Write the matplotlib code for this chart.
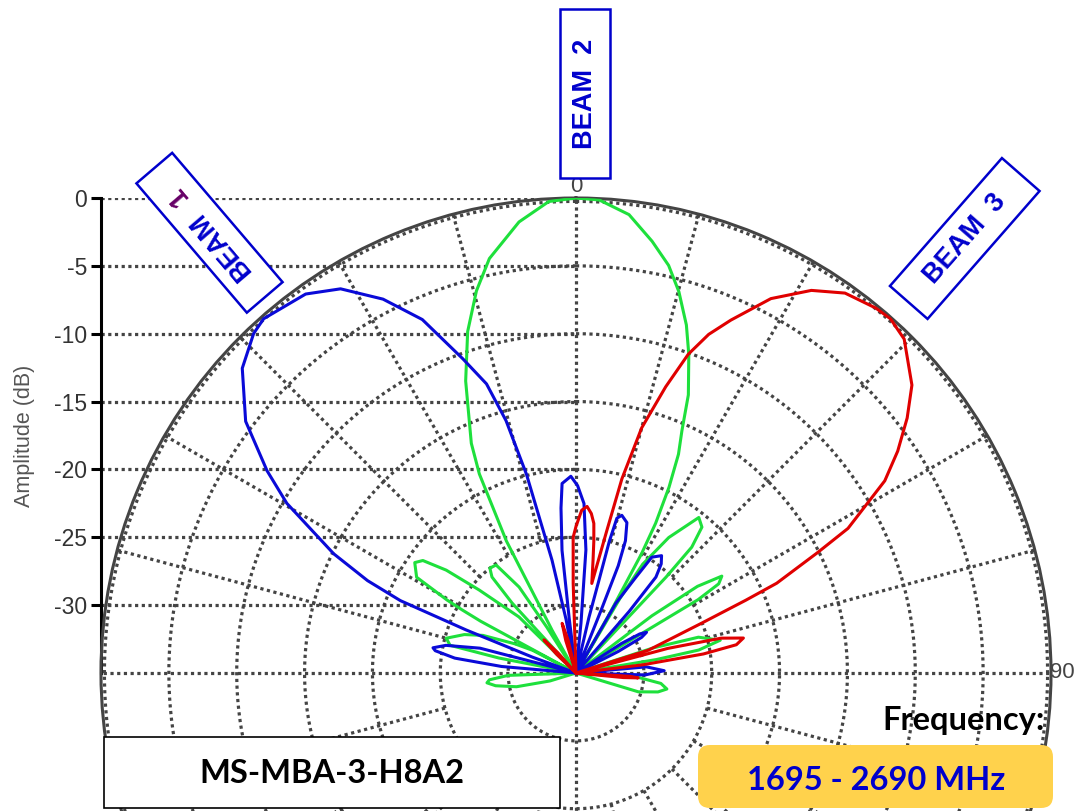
import numpy as np
import matplotlib
matplotlib.use("Agg")
import matplotlib.pyplot as plt
from matplotlib.patches import Polygon, Rectangle, FancyBboxPatch

# pattern data: angle (deg, 0 = boresight, clockwise) and level (dB)
# -35 dB is the centre of the chart, nulls are drawn there
beam1_deg = [-100, -88, -85, -83, -81, -80, -78, -75.5, -72.5, -70, -68.6, -67.6, -66.1, -63.8,
             -59.6, -56.8, -52.7, -47.6, -43.5, -41.4, -35.5, -31.5, -27.3, -23.5, -19.8, -17.2,
             -15.5, -14.0, -12.0, -10.5, -9.5, -8.0, -7.1, -6.5, -5.2, -4.2, -1.5, 0.5, 2.7, 4.6,
             5.7, 6.5, 12.5, 13.1, 13.9, 14.2, 14.8, 16.2, 18.7, 20.5, 21.5, 21.8, 22.0, 28.5,
             29.7, 32.0, 33.2, 36.1, 38.0, 39.8, 40.8, 41.5, 55, 57, 58.5, 60, 61.5, 63, 65,
             82.5, 85, 88.5, 91.6, 94, 100]
beam1_db = [-35, -35, -29.5, -26.0, -24.5, -24.3, -25.2, -27.7, -35, -31.6, -26.3, -21.0, -18.2, -15.1,
            -10.3, -7.8, -4.4, -1.7, -0.5, -0.2, -0.7, -1.8, -4.0, -6.6, -10.4, -12.7,
            -15.7, -19.9, -26.5, -31.0, -35, -35, -30.9, -25.9, -22.8, -21.0, -20.5, -21.2, -22.5, -25.9,
            -31.3, -35, -35, -30.8, -28.0, -25.0, -23.2, -22.9, -23.3, -24.6, -26.5, -30.0, -35, -35,
            -29.1, -26.7, -24.8, -24.3, -24.8, -25.8, -29.0, -35, -35, -31.0, -29.5, -29.0, -29.5, -31.5, -35,
            -35, -29.8, -28.5, -29.9, -35, -35]

beam2_deg = [-110, -107, -103, -99, -96.3, -94.5, -92, -90.5, -81, -79, -77.6, -75, -71, -68,
             -64.5, -62.4, -62, -61.5, -61.0, -60.5, -59, -55.6, -53.7, -51.6, -49.4, -45.5, -44,
             -42.4, -41.2, -39.4, -36.5, -33.5, -32.5, -31.5, -29.5, -29.2, -27.8, -25.9, -24.5,
             -20.7, -17.6, -14.6, -11.8, -7.2, -3.3, 0, 2.8, 6.6, 10.0, 12.8, 15.1, 17.6, 19.5,
             22.0, 23.6, 25.1, 26.6, 28.0, 28.8, 29.5, 30.0, 30.5, 31.5, 34.4, 38.3, 40.8, 42.6,
             43.2, 43.6, 51, 53, 54.5, 56.4, 58, 59, 60, 70, 72, 73.7, 77.2, 79.4, 80.5, 82,
             91, 94, 97, 100, 103, 106.8, 110]
beam2_db = [-35, -33.0, -30.5, -29.0, -28.4, -28.6, -30.0, -35, -35, -29.2, -25.5, -25.1, -26.3, -27.6,
            -30.0, -31.4, -35, -27.0, -25.4, -24.1, -21.3, -20.6, -21.0, -22.8, -25.6, -29.1, -35,
            -28.0, -25.6, -25.0, -25.1, -27.4, -31.0, -35, -35, -31.4, -24.0, -18.7, -16.4,
            -12.0, -8.6, -5.9, -3.8, -1.5, -0.2, 0, -0.1, -1.0, -2.7, -4.2, -5.9, -8.1, -10.1,
            -12.9, -15.5, -17.2, -19.7, -22.5, -25.0, -30.0, -35, -28.6, -25.6, -22.9, -20.4, -20.8, -22.4,
            -25.3, -35, -35, -28.0, -24.0, -22.1, -22.6, -24.5, -35, -35, -29.0, -25.6, -24.1, -25.8, -29.0, -35,
            -35, -30.4, -28.7, -28.2, -28.8, -30.2, -35]

beam3_deg = [-100, -48, -46, -44, -42, -40, -19, -17.5, -15.6, -13.5, -12, -3, -1.8, -1.2, 0,
             2.0, 3.8, 5.5, 6.8, 7.7, 8.6, 10.0, 12.2, 13.3, 15.0, 17.4, 19.4, 21.4, 23.7, 27.5,
             31.6, 35.3, 39.4, 41.6, 44.5, 49.4, 52.4, 55.4, 58.1, 62.0, 63.5, 65.9, 66.8, 68.4,
             72.5, 73.5, 75.0, 76.5, 78.2, 80.0, 81.5, 83.0, 84.5, 91, 93.5, 94.5, 95.5, 97, 100]
beam3_db = [-35, -35, -33.0, -31.6, -33.0, -35, -35, -32.5, -31.2, -32.5, -35, -35, -28.4, -25.0, -24.2,
            -23.0, -22.7, -23.2, -23.9, -25.2, -26.6, -28.3, -24.3, -20.3, -16.3, -12.9, -10.1, -8.2, -6.6, -3.9,
            -1.9, -0.7, -0.2, -0.1, -0.5, -2.4, -4.2, -6.2, -8.2, -12.3, -15.1, -18.8, -21.4, -25.1,
            -29.4, -35, -28.0, -24.0, -22.4, -23.0, -25.5, -30.0, -35, -35, -31.0, -30.4, -31.5, -35, -35]

amp_ticks = [0, -5, -10, -15, -20, -25, -30]
amp_labels = ["0", "-5", "-10", "-15", "-20", "-25", "-30"]
ring_levels = [-30, -25, -20, -15, -10, -5]

BLUE_LINE = "#0a0ad8"
GREEN_LINE = "#1ee03c"
RED_LINE = "#e00000"
TEXT_BLUE = "#0000cc"
GRID = "#444444"
DOTS = (0, (1, 1.1))
GRID_LW = 2.3
LINE_LW = 2.2

W, H = 1084, 811
CX, CY, R = 576, 673, 475   # chart centre and 0 dB radius, in pixels

fig = plt.figure(figsize=(W / 100, H / 100), dpi=100)

## amplitude scale on the left, its dotted lines run to the centre line
ax_amp = fig.add_axes([(CX - R) / W, 1 - CY / H, R / W, R / H])
ax_amp.set_facecolor("none")
ax_amp.set_xlim(0, 1)
ax_amp.set_ylim(-35, 0)
for s in ("top", "right", "bottom"):
    ax_amp.spines[s].set_visible(False)
ax_amp.spines["left"].set_linewidth(2.2)
ax_amp.spines["left"].set_color("black")
ax_amp.set_xticks([])
ax_amp.set_yticks(amp_ticks)
ax_amp.set_yticklabels(amp_labels, fontfamily="Liberation Sans")
ax_amp.tick_params(axis="y", direction="out", length=7, width=2.2, pad=3,
                   labelsize=16.5, labelcolor="#333333", color="black")
for v in amp_ticks:
    ax_amp.axhline(v, color=GRID, lw=GRID_LW, ls=DOTS, zorder=1)
ax_amp.set_ylabel("Amplitude (dB)", fontsize=15.5, color="#555555",
                  fontfamily="Liberation Sans", labelpad=14)

## polar chart
ax = fig.add_axes([(CX - R) / W, 1 - (CY + R) / H, 2 * R / W, 2 * R / H], projection="polar")
ax.set_facecolor("none")
ax.set_theta_zero_location("N")
ax.set_theta_direction(-1)
ax.set_ylim(-35, 0)
ax.set_xticks([])
ax.set_yticks([])
ax.grid(False)
ax.spines["polar"].set_color(GRID)
ax.spines["polar"].set_linewidth(2.2)

th = np.linspace(0, 2 * np.pi, 721)
for v in ring_levels + [-0.25]:
    ax.plot(th, np.full_like(th, v), color=GRID, lw=GRID_LW, ls=DOTS, zorder=1)
for d in range(0, 360, 15):
    start = -35 if d % 90 == 0 else -25
    ax.plot([np.deg2rad(d)] * 2, [start, 0], color=GRID, lw=GRID_LW, ls=DOTS, zorder=1)

ax.plot(np.deg2rad(beam2_deg), beam2_db, color=GREEN_LINE, lw=LINE_LW, zorder=3)
ax.plot(np.deg2rad(beam1_deg), beam1_db, color=BLUE_LINE, lw=LINE_LW, zorder=4)
ax.plot(np.deg2rad(beam3_deg), beam3_db, color=RED_LINE, lw=LINE_LW, zorder=5)

## overlay in pixel coordinates for labels and boxes
ov = fig.add_axes([0, 0, 1, 1])
ov.set_xlim(0, W)
ov.set_ylim(H, 0)
ov.axis("off")

ov.text(CX, 186, "0", ha="center", va="center", fontsize=16, color="#444444",
        fontfamily="Liberation Sans", zorder=2)
ov.text(1050, 673, "90", ha="left", va="center", fontsize=16, color="#444444",
        fontfamily="Liberation Sans", zorder=2)


def beam_box(cx, cy, ang, length=170, thick=50):
    a = np.deg2rad(ang)
    u = np.array([np.cos(a), -np.sin(a)])
    v = np.array([np.sin(a), np.cos(a)])
    c = np.array([cx, cy])
    pts = [c + s * length / 2 * u + t * thick / 2 * v
           for s, t in [(-1, -1), (1, -1), (1, 1), (-1, 1)]]
    ov.add_patch(Polygon(pts, closed=True, fc="white", ec=TEXT_BLUE, lw=1.8, zorder=5))
    return c, u


beam_kw = dict(ha="center", va="center", rotation_mode="anchor", fontsize=19.5,
               fontweight="bold", fontfamily="Liberation Sans", zorder=6)

c, u = beam_box(585, 93.5, 90, 169, 50)
ov.text(c[0], c[1], "BEAM  2", rotation=90, color=TEXT_BLUE, **beam_kw)

c, u = beam_box(964.75, 238.5, 48.8)
ov.text(c[0], c[1], "BEAM  3", rotation=48.8, color=TEXT_BLUE, **beam_kw)

c, u = beam_box(209.5, 232.75, 130.5, 170, 47)
p = c - 15.6 * u
ov.text(p[0], p[1], "BEAM", rotation=130.5, color=TEXT_BLUE, **beam_kw)
p = c + 49 * u
ov.text(p[0], p[1], "1", rotation=130.5, color="#660066", **beam_kw)

## model and frequency boxes
ov.add_patch(Rectangle((104, 737), 456, 71, fc="white", ec="black", lw=1.2, zorder=5))
ov.text(332, 783, "MS-MBA-3-H8A2", ha="center", va="baseline", fontsize=23.5,
        fontweight="bold", fontfamily="Lato", color="black", zorder=6)

ov.text(1045, 730, "Frequency:", ha="right", va="baseline", fontsize=23.5,
        fontweight="bold", fontfamily="Lato", color="black", zorder=6)
ov.add_patch(FancyBboxPatch((708, 755), 335, 43, boxstyle="round,pad=10,rounding_size=12",
                            fc="#ffd24c", ec="none", zorder=5))
ov.text(876, 790, "1695 - 2690 MHz", ha="center", va="baseline", fontsize=23.5,
        fontweight="bold", fontfamily="Lato", color=TEXT_BLUE, zorder=6)

fig.savefig("out.png", dpi=100)
plt.close(fig)
